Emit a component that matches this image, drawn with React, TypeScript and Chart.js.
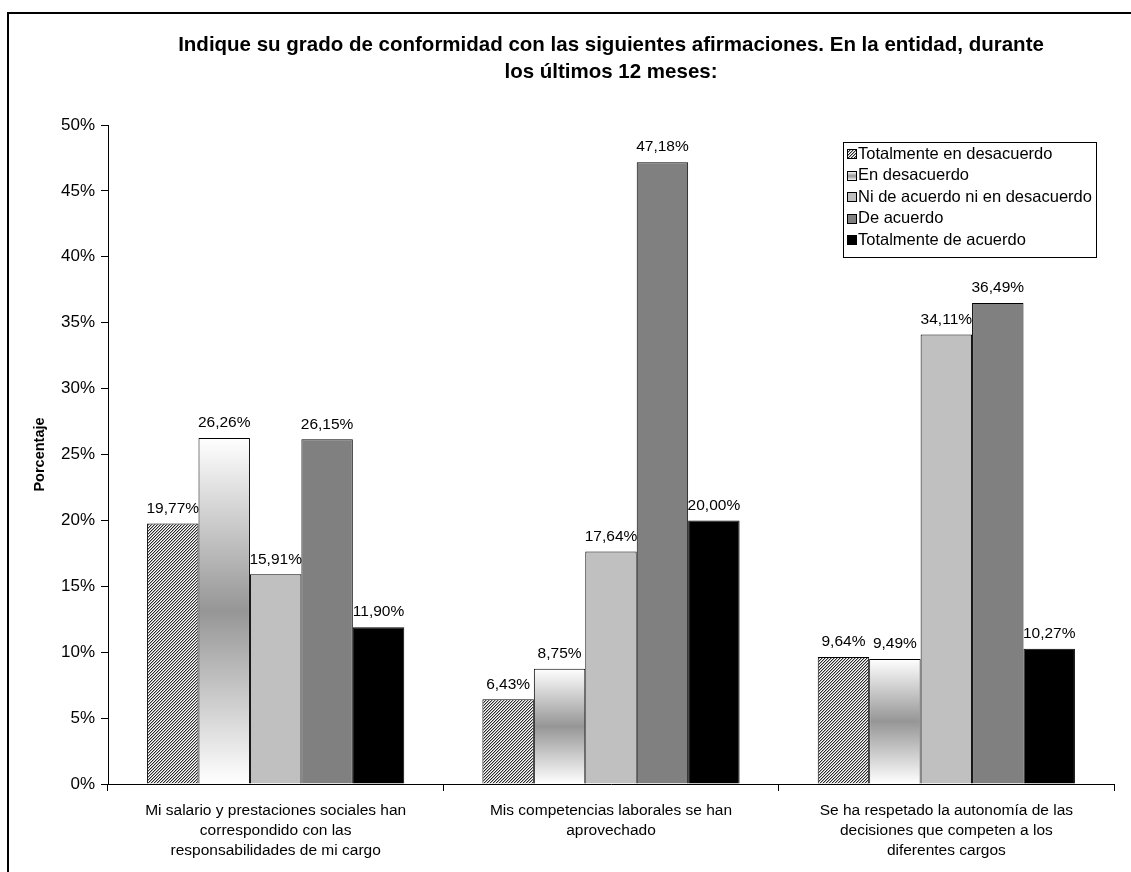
import React, { useEffect, useRef } from "react";
import { Chart, registerables } from "chart.js";

Chart.register(...registerables);

const categories: string[][] = [
  ["Mi salario y prestaciones sociales han", "correspondido con las", "responsabilidades de mi cargo"],
  ["Mis competencias laborales se han", "aprovechado"],
  ["Se ha respetado la autonomía de las", "decisiones que competen a los", "diferentes cargos"],
];

const seriesNames: string[] = [
  "Totalmente en desacuerdo",
  "En desacuerdo",
  "Ni de acuerdo ni en desacuerdo",
  "De acuerdo",
  "Totalmente de acuerdo",
];

const totalmenteDesacuerdo: number[] = [19.77, 6.43, 9.64];
const enDesacuerdo: number[] = [26.26, 8.75, 9.49];
const niAcuerdoNiDesacuerdo: number[] = [15.91, 17.64, 34.11];
const deAcuerdo: number[] = [26.15, 47.18, 36.49];
const totalmenteAcuerdo: number[] = [11.9, 20.0, 10.27];

const yTicks: number[] = [0, 5, 10, 15, 20, 25, 30, 35, 40, 45, 50];

const titleLines: string[] = [
  "Indique su grado de conformidad con las siguientes afirmaciones. En la entidad, durante",
  "los últimos 12 meses:",
];
const yTitle = "Porcentaje";

const FONT = "'Liberation Sans', Arial, sans-serif";

function makeHatch(): CanvasPattern | string {
  const c = document.createElement("canvas");
  c.width = 3;
  c.height = 3;
  const g = c.getContext("2d");
  if (!g) return "#888";
  const shades = ["#2a2a2a", "#b0b0b0", "#ffffff"];
  for (let x = 0; x < 3; x++) {
    for (let y = 0; y < 3; y++) {
      g.fillStyle = shades[(x + y) % 3];
      g.fillRect(x, y, 1, 1);
    }
  }
  const p = g.createPattern(c, "repeat");
  return p || "#888";
}

function gradFor(ctx2d: CanvasRenderingContext2D, top: number, bottom: number): CanvasGradient | string {
  if (!isFinite(top) || !isFinite(bottom) || top === bottom) return "#c8c8c8";
  const gr = ctx2d.createLinearGradient(0, top, 0, bottom);
  gr.addColorStop(0, "#ffffff");
  gr.addColorStop(0.5, "#969696");
  gr.addColorStop(1, "#ffffff");
  return gr;
}

export default function App() {
  const ref = useRef<HTMLCanvasElement | null>(null);

  useEffect(() => {
    const canvas = ref.current;
    if (!canvas) return;
    const hatch = makeHatch();

    const gradientBg = (c: any) => {
      const chart = c.chart;
      const ys = chart && chart.scales && chart.scales.y;
      if (!c || c.type !== "data" || !ys || !chart.chartArea) return "#c8c8c8";
      const top = ys.getPixelForValue(c.raw);
      const bottom = ys.getPixelForValue(0);
      return gradFor(chart.ctx, Math.min(top, bottom), Math.max(top, bottom));
    };

    const fills: any[] = [hatch, gradientBg, "#c0c0c0", "#808080", "#000000"];
    const dataArrays = [totalmenteDesacuerdo, enDesacuerdo, niAcuerdoNiDesacuerdo, deAcuerdo, totalmenteAcuerdo];

    const decor = {
      id: "decor",
      beforeDraw(chart: any) {
        const g = chart.ctx;
        g.save();
        g.fillStyle = "#ffffff";
        g.fillRect(0, 0, chart.width, chart.height);
        g.restore();
      },
      afterDatasetsDraw(chart: any) {
        const g = chart.ctx;
        g.save();
        g.font = `15.5px ${FONT}`;
        g.fillStyle = "#000";
        g.textAlign = "center";
        g.textBaseline = "middle";
        chart.data.datasets.forEach((ds: any, i: number) => {
          const meta = chart.getDatasetMeta(i);
          meta.data.forEach((bar: any, j: number) => {
            const v = ds.data[j] as number;
            const txt = v.toFixed(2).replace(".", ",") + "%";
            g.fillText(txt, bar.x, bar.y - 15);
          });
        });
        g.restore();
      },
      afterDraw(chart: any) {
        const g = chart.ctx;
        const area = chart.chartArea;
        g.save();
        // outer frame
        g.strokeStyle = "#000";
        g.lineWidth = 2;
        g.beginPath();
        g.moveTo(8, chart.height + 5);
        g.lineTo(8, 13);
        g.lineTo(chart.width + 5, 13);
        g.stroke();

        // title
        g.fillStyle = "#000";
        g.font = `bold 20.5px ${FONT}`;
        g.textAlign = "center";
        g.textBaseline = "middle";
        const cx = (area.left + area.right) / 2;
        g.fillText(titleLines[0], cx, 45);
        g.fillText(titleLines[1], cx, 72);

        // y title
        g.save();
        g.font = `bold 14.5px ${FONT}`;
        g.translate(40, (area.top + area.bottom) / 2);
        g.rotate(-Math.PI / 2);
        g.fillText(yTitle, 0, 0);
        g.restore();

        // legend
        const lx = 843.5, ly = 142.5, lw = 253, lh = 115;
        g.fillStyle = "#fff";
        g.fillRect(lx, ly, lw, lh);
        g.strokeStyle = "#000";
        g.lineWidth = 1;
        g.strokeRect(lx, ly, lw, lh);
        g.font = `16.5px ${FONT}`;
        g.textAlign = "left";
        g.textBaseline = "middle";
        seriesNames.forEach((name, i) => {
          const cy = 154 + i * 21.6;
          const sx = 847.5, sy = Math.round(cy - 5) + 0.5, ss = 9;
          let f: any = fills[i];
          if (i === 1) f = gradFor(g, sy, sy + ss);
          g.fillStyle = f;
          g.fillRect(sx, sy, ss, ss);
          g.strokeStyle = "#000";
          g.strokeRect(sx, sy, ss, ss);
          g.fillStyle = "#000";
          g.fillText(name, 858, cy);
        });
        g.restore();
      },
    };

    const chart = new Chart(canvas, {
      type: "bar",
      data: {
        labels: categories,
        datasets: seriesNames.map((name, i) => ({
          label: name,
          data: dataArrays[i],
          backgroundColor: fills[i],
          borderColor: "#000",
          borderWidth: 1,
          categoryPercentage: 0.767,
          barPercentage: 1,
        })),
      },
      options: {
        responsive: false,
        animation: false,
        devicePixelRatio: 1,
        layout: { padding: { top: 125, right: 17, left: 0, bottom: 0 } },
        plugins: {
          legend: { display: false },
          title: { display: false },
          tooltip: { enabled: false },
        },
        scales: {
          x: {
            type: "category",
            offset: true,
            grid: {
              display: true,
              offset: true,
              drawOnChartArea: false,
              drawTicks: true,
              tickLength: 7,
              color: "#000",
            },
            border: { display: true, color: "#000", width: 1 },
            ticks: {
              color: "#000",
              font: { size: 15.5, family: FONT, lineHeight: 1.32 },
              padding: 9,
              maxRotation: 0,
              minRotation: 0,
              autoSkip: false,
            },
            afterFit: (s: any) => {
              s.height = 88;
            },
          },
          y: {
            min: 0,
            max: 50,
            afterBuildTicks: (s: any) => {
              s.ticks = yTicks.map((v) => ({ value: v }));
            },
            grid: {
              display: true,
              drawOnChartArea: false,
              drawTicks: true,
              tickLength: 7,
              color: "#000",
            },
            border: { display: true, color: "#000", width: 1 },
            ticks: {
              color: "#000",
              font: { size: 17, family: FONT },
              padding: 6,
              callback: (v: any) => `${v}%`,
            },
            afterFit: (s: any) => {
              s.width = 108;
            },
          },
        },
      },
      plugins: [decor],
    } as any);

    return () => chart.destroy();
  }, []);

  return (
    <div style={{ position: "absolute", left: 0, top: 0, width: 1131, height: 872 }}>
      <canvas ref={ref} width={1131} height={872} style={{ display: "block", width: 1131, height: 872 }} />
    </div>
  );
}
